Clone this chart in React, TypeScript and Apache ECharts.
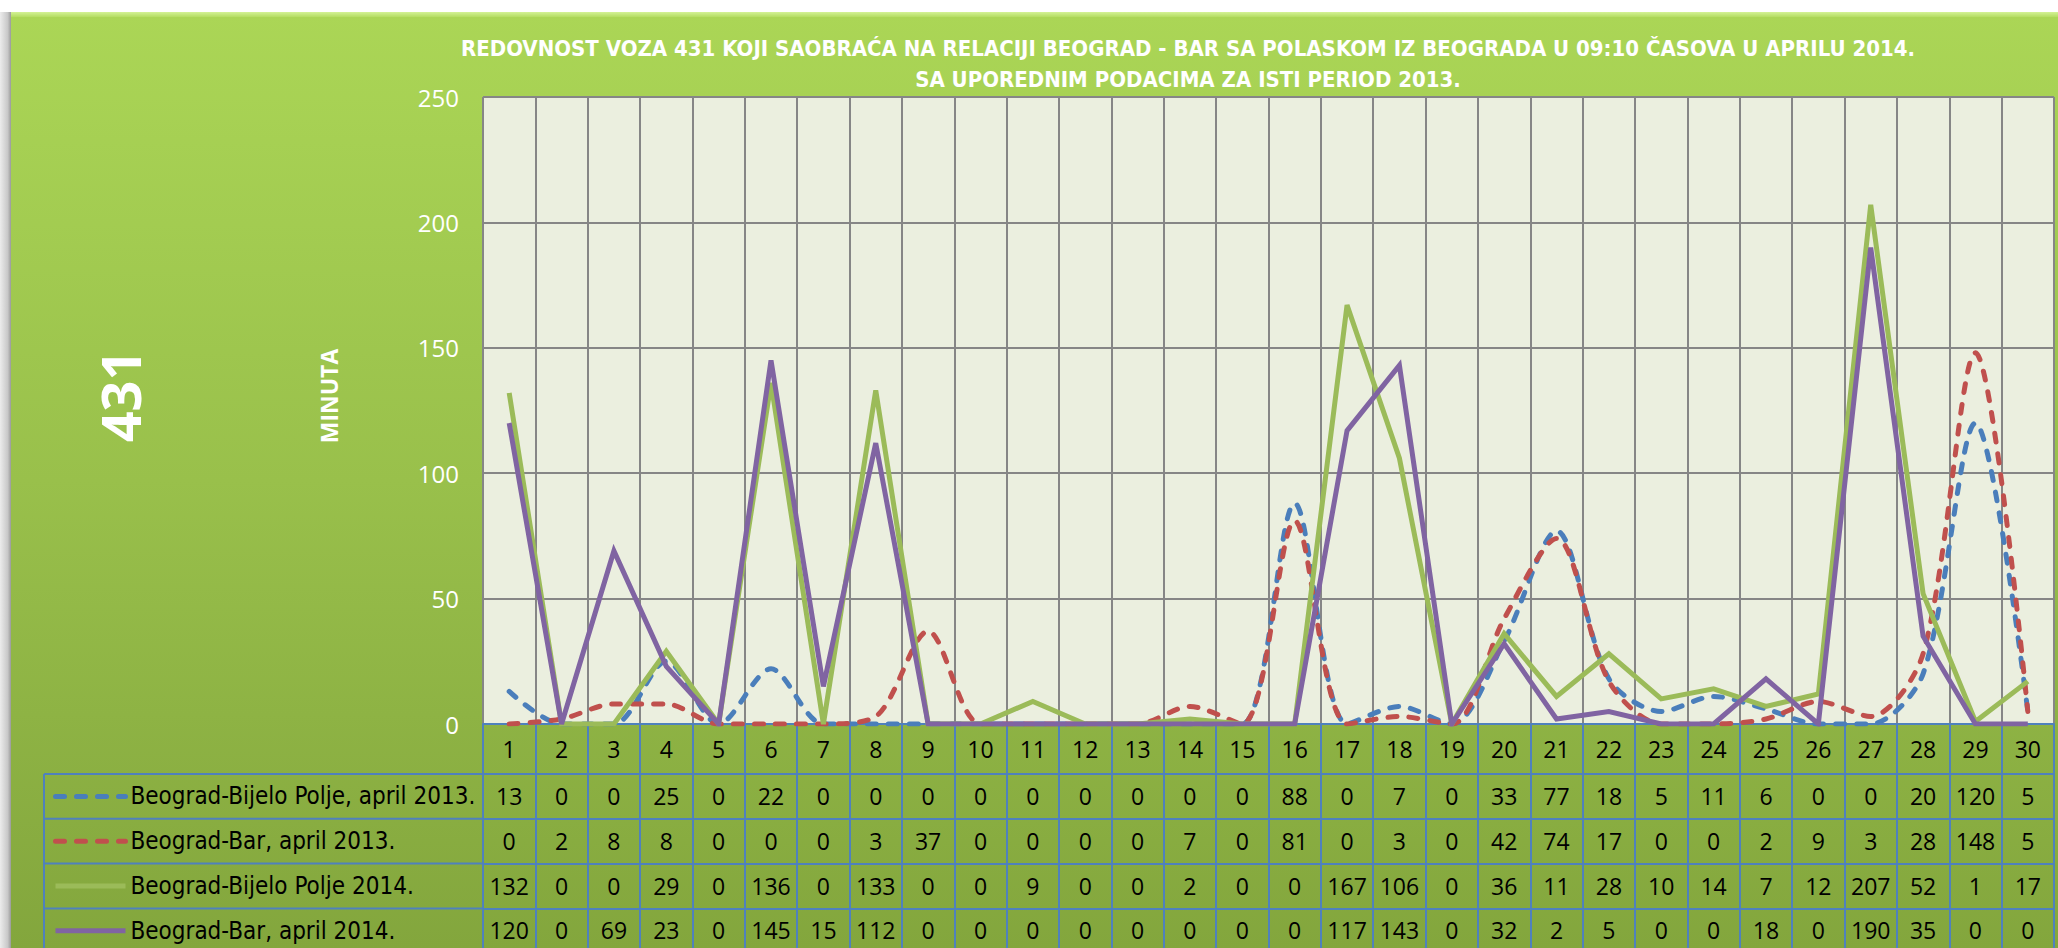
import React, { useEffect, useRef } from 'react';
import * as echarts from 'echarts';

// ---------- data ----------
const days = ['1', '2', '3', '4', '5', '6', '7', '8', '9', '10', '11', '12', '13', '14', '15', '16', '17', '18', '19', '20', '21', '22', '23', '24', '25', '26', '27', '28', '29', '30'];

const seriesNames = [
  'Beograd-Bijelo Polje, april 2013.',
  'Beograd-Bar, april 2013.',
  'Beograd-Bijelo Polje 2014.',
  'Beograd-Bar, april 2014.',
];

const bijeloPolje2013 = [13, 0, 0, 25, 0, 22, 0, 0, 0, 0, 0, 0, 0, 0, 0, 88, 0, 7, 0, 33, 77, 18, 5, 11, 6, 0, 0, 20, 120, 5];
const bar2013 = [0, 2, 8, 8, 0, 0, 0, 3, 37, 0, 0, 0, 0, 7, 0, 81, 0, 3, 0, 42, 74, 17, 0, 0, 2, 9, 3, 28, 148, 5];
const bijeloPolje2014 = [132, 0, 0, 29, 0, 136, 0, 133, 0, 0, 9, 0, 0, 2, 0, 0, 167, 106, 0, 36, 11, 28, 10, 14, 7, 12, 207, 52, 1, 17];
const bar2014 = [120, 0, 69, 23, 0, 145, 15, 112, 0, 0, 0, 0, 0, 0, 0, 0, 117, 143, 0, 32, 2, 5, 0, 0, 18, 0, 190, 35, 0, 0];

const yMin = 0;
const yMax = 250;
const yStep = 50;

const titleLines = [
  'REDOVNOST VOZA 431 KOJI SAOBRAĆA NA RELACIJI BEOGRAD - BAR SA POLASKOM IZ BEOGRADA U 09:10 ČASOVA U APRILU 2014.',
  'SA UPOREDNIM PODACIMA ZA ISTI PERIOD 2013.',
];
const trainLabel = '431';
const yAxisTitle = 'MINUTA';

// ---------- layout / style ----------
const W = 2058;
const H = 948;
const PLOT_L = 483;
const PLOT_R = 2054;
const PLOT_T = 97;
const PLOT_B = 724;
const LABEL_ROW_H = 50;
const ROW_H = 44.8;
const TABLE_L = 44;

const BORDER = '#4F81BD';
const GRIDLINE = '#868686';
const numFont = "'Open Sans', sans-serif";
const narrowFont = "'Liberation Sans Narrow', 'DejaVu Sans Condensed', 'Open Sans', sans-serif";

const rows = [bijeloPolje2013, bar2013, bijeloPolje2014, bar2014];
const lineDefs = [
  { color: '#4A7EBB', dashed: true, smooth: 0.3 },
  { color: '#C0504D', dashed: true, smooth: 0.3 },
  { color: '#9BBB59', dashed: false, smooth: false },
  { color: '#8064A2', dashed: false, smooth: false },
];

function buildOption() {
  const rowTop = (r: number) => PLOT_B + LABEL_ROW_H + ROW_H * r;

  const xAxes: any[] = [
    {
      type: 'category',
      gridIndex: 0,
      data: days,
      position: 'bottom',
      boundaryGap: true,
      axisLine: { show: true, onZero: false, lineStyle: { color: BORDER, width: 2 } },
      axisTick: { show: true, interval: 0, length: LABEL_ROW_H, lineStyle: { color: BORDER, width: 2 } },
      axisLabel: { interval: 0, margin: 12, color: '#000', fontSize: 23, fontFamily: numFont, lineHeight: 26 },
      splitLine: { show: true, interval: 0, lineStyle: { color: GRIDLINE, width: 2 } },
    },
  ];
  rows.forEach((row, r) => {
    xAxes.push({
      type: 'category',
      gridIndex: 0,
      data: days,
      position: 'bottom',
      offset: LABEL_ROW_H + ROW_H * r,
      boundaryGap: true,
      axisLine: { show: true, onZero: false, lineStyle: { color: BORDER, width: 2 } },
      axisTick: { show: true, interval: 0, length: ROW_H, lineStyle: { color: BORDER, width: 2 } },
      axisLabel: {
        interval: 0,
        margin: 9,
        color: '#000',
        fontSize: 23,
        fontFamily: numFont,
        lineHeight: 26,
        formatter: (_v: string, i: number) => String(row[i]),
      },
      splitLine: { show: false },
    });
  });

  const legends = seriesNames.map((name, i) => ({
    data: [name],
    orient: 'vertical',
    left: 53,
    top: rowTop(i) + ROW_H / 2 - 13,
    padding: 0,
    itemWidth: 70,
    itemHeight: 14,
    itemGap: 0,
    selectedMode: false,
    textStyle: { color: '#000', fontSize: 24, fontFamily: narrowFont, lineHeight: 26 },
    itemStyle: { opacity: 0 },
    lineStyle: { width: 5 },
  }));

  const tableLines: any[] = [];
  for (let r = 0; r < rows.length; r++) {
    tableLines.push({
      type: 'line',
      z: 5,
      shape: { x1: TABLE_L, y1: rowTop(r), x2: PLOT_L, y2: rowTop(r) },
      style: { stroke: BORDER, lineWidth: 2 },
    });
  }
  tableLines.push({
    type: 'line',
    z: 5,
    shape: { x1: TABLE_L, y1: rowTop(0), x2: TABLE_L, y2: H },
    style: { stroke: BORDER, lineWidth: 2 },
  });

  return {
    animation: false,
    backgroundColor: '#ffffff',
    title: {
      text: titleLines.join('\n'),
      left: 1188,
      top: 33,
      textAlign: 'center',
      padding: 0,
      textStyle: {
        color: '#ffffff',
        fontSize: 22,
        fontWeight: 'bold',
        fontFamily: narrowFont,
        lineHeight: 31,
      },
    },
    legend: legends,
    grid: {
      left: PLOT_L,
      right: W - PLOT_R,
      top: PLOT_T,
      bottom: H - PLOT_B,
      show: true,
      backgroundColor: '#EBEFDF',
      borderWidth: 0,
      outerBoundsMode: 'none',
      containLabel: false,
    },
    xAxis: xAxes,
    yAxis: {
      type: 'value',
      min: yMin,
      max: yMax,
      interval: yStep,
      axisLine: { show: false },
      axisTick: { show: false },
      axisLabel: { color: '#ffffff', fontSize: 24, fontFamily: numFont, margin: 24 },
      splitLine: { show: true, lineStyle: { color: GRIDLINE, width: 2 } },
    },
    series: seriesNames.map((name, i) => ({
      name,
      type: 'line',
      xAxisIndex: 0,
      yAxisIndex: 0,
      data: rows[i],
      symbol: 'none',
      smooth: lineDefs[i].smooth,
      itemStyle: { color: lineDefs[i].color },
      lineStyle: {
        color: lineDefs[i].color,
        width: 5,
        type: lineDefs[i].dashed ? [9, 12] : 'solid',
        cap: lineDefs[i].dashed ? 'round' : 'butt',
        join: 'miter',
      },
      z: 3 + i,
    })),
    graphic: [
      {
        type: 'rect',
        z: -20,
        silent: true,
        shape: { x: 0, y: 12, width: 11, height: H - 12 },
        style: {
          fill: new echarts.graphic.LinearGradient(0, 0, 1, 0, [
            { offset: 0, color: '#ECECEC' },
            { offset: 0.7, color: '#C8C8C8' },
            { offset: 1, color: '#9A9A9A' },
          ]),
        },
      },
      {
        type: 'rect',
        z: -19,
        silent: true,
        shape: { x: 11, y: 12, width: W - 11, height: H - 12 },
        style: {
          fill: new echarts.graphic.LinearGradient(0, 0, 0, 1, [
            { offset: 0, color: '#ABD656' },
            { offset: 0.5, color: '#99C04B' },
            { offset: 1, color: '#83A63D' },
          ]),
        },
      },
      {
        type: 'rect',
        z: -18,
        silent: true,
        shape: { x: 11, y: 12, width: W - 11, height: 5 },
        style: {
          fill: new echarts.graphic.LinearGradient(0, 0, 0, 1, [
            { offset: 0, color: '#D4F296' },
            { offset: 1, color: '#B4DD62' },
          ]),
        },
      },
      ...tableLines,
      {
        type: 'text',
        z: 10,
        x: 120,
        y: 396,
        rotation: Math.PI / 2,
        style: {
          text: trainLabel,
          fill: '#ffffff',
          fontSize: 54,
          fontWeight: 'bold',
          fontFamily: numFont,
          align: 'center',
          verticalAlign: 'middle',
        },
      },
      {
        type: 'text',
        z: 10,
        x: 329,
        y: 396,
        rotation: Math.PI / 2,
        style: {
          text: yAxisTitle,
          fill: '#ffffff',
          fontSize: 23,
          fontWeight: 'bold',
          fontFamily: numFont,
          align: 'center',
          verticalAlign: 'middle',
        },
      },
    ],
  };
}

export default function App() {
  const ref = useRef<HTMLDivElement>(null);
  useEffect(() => {
    if (!ref.current) return;
    const chart = echarts.init(ref.current, undefined, { renderer: 'svg' });
    chart.setOption(buildOption() as any);
    return () => chart.dispose();
  }, []);
  return <div ref={ref} style={{ position: 'absolute', left: 0, top: 0, width: W, height: H }} />;
}
